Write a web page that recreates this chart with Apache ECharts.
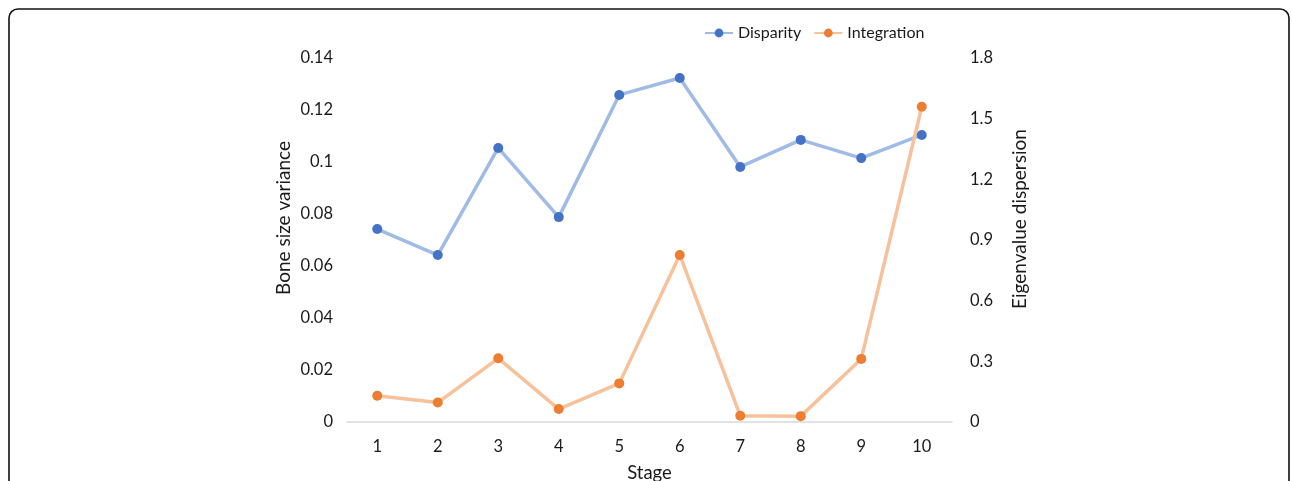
<!DOCTYPE html>
<html>
<head>
<meta charset="utf-8">
<script src="https://cdn.jsdelivr.net/npm/echarts@6/dist/echarts.min.js"></script>
<style>
  html, body { margin: 0; padding: 0; background: #fff; overflow: hidden; }
  #chart { width: 1292px; height: 481px; }
</style>
</head>
<body>
<div id="chart"></div>
<script>
// Stage-by-stage bone size variance (left axis) and eigenvalue dispersion (right axis)
const stages = ['1', '2', '3', '4', '5', '6', '7', '8', '9', '10'];
const disparity = [0.0742, 0.0642, 0.1054, 0.0788, 0.1258, 0.1323, 0.0981, 0.1085, 0.1015, 0.1104];
const integration = [0.130, 0.096, 0.315, 0.064, 0.191, 0.826, 0.031, 0.029, 0.312, 1.559];

const FONT = 'Lato, "Open Sans", sans-serif';
const TEXT = '#1a1a1a';

const chart = echarts.init(document.getElementById('chart'), null, { renderer: 'canvas' });
chart.setOption({
  backgroundColor: '#ffffff',
  animation: false,
  textStyle: { fontFamily: FONT },
  graphic: [{
    type: 'rect',
    shape: { x: 9, y: 9, width: 1280, height: 520, r: 9 },
    style: { fill: 'none', stroke: '#111', lineWidth: 1.6 },
    silent: true
  }],
  legend: {
    top: 20,
    left: 699,
    itemWidth: 28,
    itemHeight: 11,
    itemGap: 12,
    textStyle: { fontSize: 16, color: TEXT, fontFamily: FONT },
    data: ['Disparity', 'Integration']
  },
  grid: { left: 347, right: 340, top: 58, bottom: 59, outerBoundsMode: 'none', containLabel: false },
  xAxis: {
    type: 'category',
    data: stages,
    boundaryGap: true,
    name: 'Stage',
    nameLocation: 'middle',
    nameGap: 42,
    nameTextStyle: { fontSize: 18.5, color: TEXT, fontFamily: FONT },
    axisLine: { lineStyle: { color: '#d9d9d9', width: 1.5 } },
    axisTick: { show: false },
    axisLabel: { fontSize: 16.5, color: TEXT, margin: 16, fontFamily: FONT }
  },
  yAxis: [{
    type: 'value',
    min: 0, max: 0.14, interval: 0.02,
    name: 'Bone size variance',
    nameLocation: 'middle',
    nameGap: 54,
    nameRotate: 90,
    nameTextStyle: { fontSize: 19, color: TEXT, fontFamily: FONT, padding: [0, 0, 0, 44] },
    axisLine: { show: false },
    axisTick: { show: false },
    splitLine: { show: false },
    axisLabel: {
      fontSize: 16.5, color: TEXT, margin: 14, fontFamily: FONT,
      formatter: v => (Math.round(v * 100) / 100).toString()
    }
  }, {
    type: 'value',
    min: 0, max: 1.8, interval: 0.3,
    position: 'right',
    name: 'Eigenvalue dispersion',
    nameLocation: 'middle',
    nameGap: 77,
    nameRotate: 90,
    nameTextStyle: { fontSize: 19, color: TEXT, fontFamily: FONT, verticalAlign: 'bottom', padding: [0, 0, 0, 42] },
    axisLine: { show: false },
    axisTick: { show: false },
    splitLine: { show: false },
    axisLabel: {
      fontSize: 16.5, color: TEXT, margin: 18, fontFamily: FONT,
      formatter: v => (Math.round(v * 10) / 10).toString()
    }
  }],
  series: [{
    name: 'Disparity',
    type: 'line',
    yAxisIndex: 0,
    data: disparity,
    symbol: 'circle',
    symbolSize: 10,
    lineStyle: { color: '#9fbbe6', width: 3.5 },
    itemStyle: { color: '#4472c4' }
  }, {
    name: 'Integration',
    type: 'line',
    yAxisIndex: 1,
    data: integration,
    symbol: 'circle',
    symbolSize: 10,
    lineStyle: { color: '#f7c19c', width: 3.5 },
    itemStyle: { color: '#ed7d31' }
  }]
});
</script>
</body>
</html>
